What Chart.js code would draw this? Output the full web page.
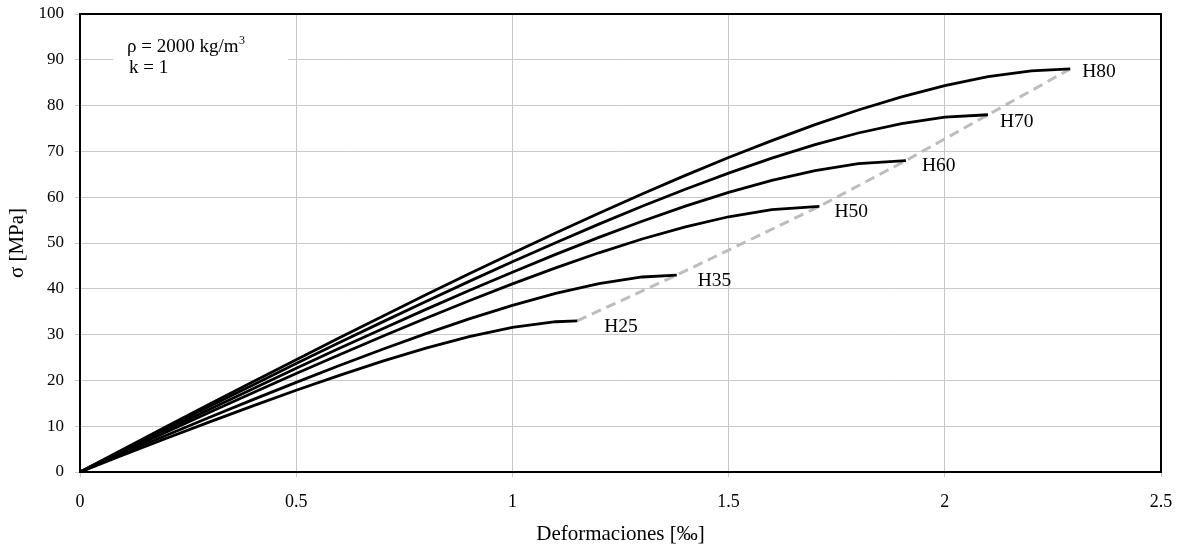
<!DOCTYPE html>
<html>
<head>
<meta charset="utf-8">
<script src="https://cdn.jsdelivr.net/npm/chart.js@4/dist/chart.umd.min.js"></script>
<style>
  html, body { margin: 0; padding: 0; background: #fff; }
</style>
</head>
<body>
<canvas id="curvesCanvas" width="1180" height="546"></canvas>
<script>
// strain steps (‰) used for every curve, each curve stops at its own peak
const strain = [0, 0.1, 0.2, 0.3, 0.4, 0.5, 0.6, 0.7, 0.8, 0.9, 1.0, 1.1,
                1.2, 1.3, 1.4, 1.5, 1.6, 1.7, 1.8, 1.9, 2.0, 2.1, 2.2];

const grades = ['H25', 'H35', 'H50', 'H60', 'H70', 'H80'];
const peakStrain = [1.15, 1.38, 1.71, 1.91, 2.10, 2.29];
const peakStress = [33, 43, 58, 68, 78, 88];

// stress (MPa) read at each strain step
const stressH25 = [0, 3.71, 7.36, 10.94, 14.45, 17.85, 21.11, 24.20, 27.04, 29.55, 31.57, 32.81];
const stressH35 = [0, 4.03, 8.01, 11.94, 15.80, 19.57, 23.25, 26.81, 30.22, 33.43, 36.38, 39.00,
                   41.13, 42.58];
const stressH50 = [0, 4.39, 8.74, 13.04, 17.30, 21.49, 25.60, 29.64, 33.58, 37.39, 41.07, 44.57,
                   47.86, 50.87, 53.53, 55.73, 57.30];
const stressH60 = [0, 4.61, 9.18, 13.72, 18.20, 22.63, 27.00, 31.29, 35.51, 39.63, 43.63, 47.51,
                   51.23, 54.75, 58.04, 61.04, 63.67, 65.82, 67.34];
const stressH70 = [0, 4.81, 9.59, 14.33, 19.02, 23.67, 28.26, 32.78, 37.24, 41.62, 45.90, 50.07,
                   54.12, 58.02, 61.75, 65.27, 68.52, 71.47, 74.02, 76.07, 77.47];
const stressH80 = [0, 4.98, 9.93, 14.84, 19.71, 24.53, 29.31, 34.03, 38.69, 43.27, 47.78, 52.20,
                   56.51, 60.71, 64.76, 68.66, 72.36, 75.84, 79.04, 81.91, 84.37, 86.31, 87.58];

const curves = [stressH25, stressH35, stressH50, stressH60, stressH70, stressH80];

const SERIF = '"Liberation Serif", "Times New Roman", serif';

// build the points of one curve: grid steps, then the peak
function curvePoints(stress, i) {
    const pts = stress.map((s, j) => ({ x: strain[j], y: s }));
    pts.push({ x: peakStrain[i], y: peakStress[i] });
    return pts;
}

const datasets = curves.map((stress, i) => ({
    label: grades[i],
    data: curvePoints(stress, i),
    borderColor: '#000',
    borderWidth: 2.8,
    pointRadius: 0,
    showLine: true,
    tension: 0
}));

// dashed line through the peaks
datasets.push({
    label: 'peaks',
    data: peakStrain.map((e, i) => ({ x: e, y: peakStress[i] })),
    borderColor: '#bdbdbd',
    borderWidth: 3,
    borderDash: [10, 6],
    pointRadius: 0,
    showLine: true
});

// little offsets for the grade labels next to each peak
const labelOffsets = [[27, 6], [21, 6], [15, 6], [16, 5], [12, 7], [12, 3]];

const extras = {
    id: 'extras',
    beforeDatasetsDraw(chart) {
        const ctx = chart.ctx;
        ctx.save();
        // white box hiding the grid behind the note
        ctx.fillStyle = '#fff';
        ctx.fillRect(113, 22, 175, 72);
        ctx.fillStyle = '#000';
        ctx.textBaseline = 'middle';
        ctx.font = '19px ' + SERIF;
        const first = 'ρ = 2000 kg/m';
        ctx.fillText(first, 127, 47);
        const w = ctx.measureText(first).width;
        ctx.font = '12px ' + SERIF;
        ctx.fillText('3', 127 + w + 0.5, 41);
        ctx.font = '19px ' + SERIF;
        ctx.fillText('k = 1', 129, 68);
        ctx.restore();
    },
    afterDatasetsDraw(chart) {
        const ctx = chart.ctx;
        const a = chart.chartArea;
        const xs = chart.scales.x, ys = chart.scales.y;
        ctx.save();
        ctx.strokeStyle = '#000';
        ctx.lineWidth = 2;
        ctx.strokeRect(a.left, a.top, a.right - a.left, a.bottom - a.top);

        ctx.fillStyle = '#000';
        ctx.font = '19.5px ' + SERIF;
        ctx.textBaseline = 'middle';
        grades.forEach((g, i) => {
            const px = xs.getPixelForValue(peakStrain[i]) + labelOffsets[i][0];
            const py = ys.getPixelForValue(peakStress[i]) + labelOffsets[i][1];
            ctx.fillText(g, px, py);
        });
        ctx.restore();
    }
};

const ctx = document.getElementById('curvesCanvas').getContext('2d');
new Chart(ctx, {
    type: 'scatter',
    data: { datasets: datasets },
    plugins: [extras],
    options: {
        responsive: false,
        animation: false,
        layout: { autoPadding: false, padding: { left: 0, right: 19, top: 14, bottom: 0 } },
        plugins: {
            legend: { display: false },
            tooltip: { enabled: false }
        },
        scales: {
            x: {
                type: 'linear',
                min: 0,
                max: 2.5,
                grid: { color: '#c8c8c8', lineWidth: 1, tickLength: 5, tickColor: '#c8c8c8' },
                border: { display: false },
                ticks: {
                    stepSize: 0.5,
                    color: '#000',
                    padding: 14,
                    font: { family: SERIF, size: 18 },
                    callback: v => String(v)
                },
                title: {
                    display: true,
                    text: 'Deformaciones [‰]',
                    color: '#000',
                    font: { family: SERIF, size: 21 },
                    padding: { top: 0, bottom: -1 }
                },
                afterFit: s => {
                    s.height = 74;
                    s.paddingLeft = 0;
                    s.paddingRight = 0;
                }
            },
            y: {
                min: 0,
                max: 100,
                grid: { color: '#c8c8c8', lineWidth: 1, tickLength: 5, tickColor: '#c8c8c8' },
                border: { display: false },
                ticks: {
                    stepSize: 10,
                    color: '#000',
                    padding: 11,
                    font: { family: SERIF, size: 17 }
                },
                title: {
                    display: true,
                    text: 'σ [MPa]',
                    color: '#000',
                    font: { family: SERIF, size: 21 },
                    padding: { top: 5, bottom: 0 }
                },
                afterFit: s => {
                    s.width = 80;
                    s.paddingTop = 0;
                    s.paddingBottom = 0;
                }
            }
        }
    }
});
</script>
</body>
</html>
